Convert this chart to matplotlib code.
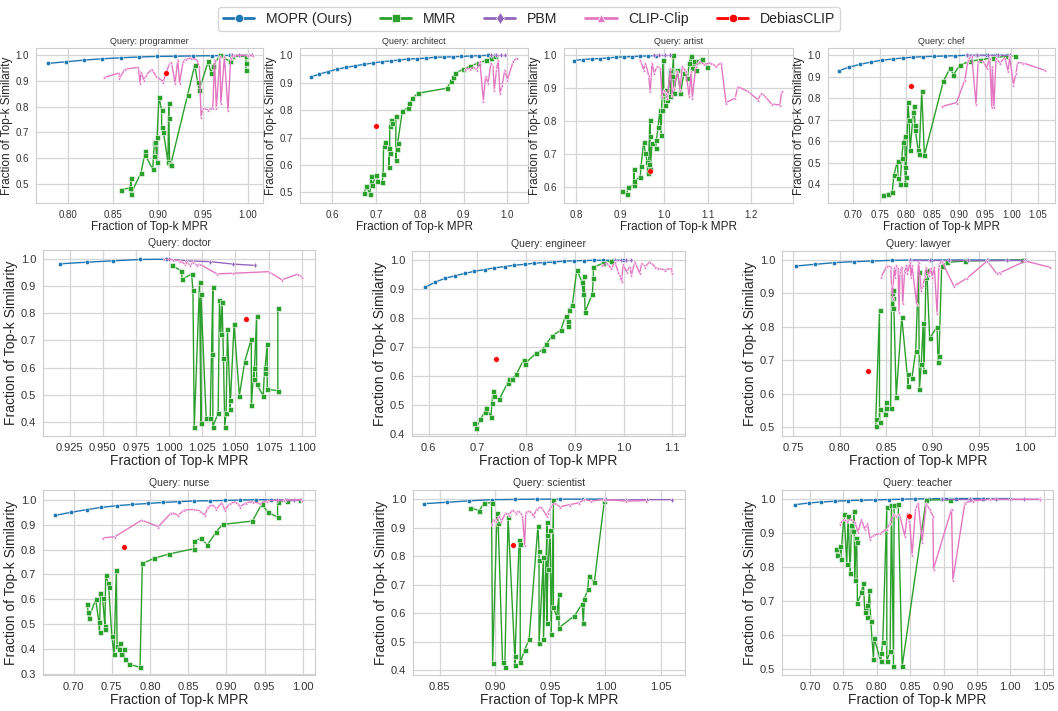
import numpy as np
import matplotlib
matplotlib.use("Agg")
from matplotlib import pyplot as plt
from matplotlib.ticker import MultipleLocator
from matplotlib.lines import Line2D
import seaborn as sns

sns.set_style("whitegrid")
plt.rcParams['font.family'] = ['Liberation Sans', 'DejaVu Sans']

queries = ['programmer', 'architect', 'artist', 'chef', 'doctor',
           'engineer', 'lawyer', 'nurse', 'scientist', 'teacher']
methods = ['MOPR (Ours)', 'MMR', 'PBM', 'CLIP-Clip', 'DebiasCLIP']

# ---- programmer ----
programmer_mopr = [(0.777, 0.969), (0.797, 0.975), (0.818, 0.982), (0.838, 0.987), (0.859, 0.991),
                   (0.879, 0.994), (0.899, 0.996), (0.919, 0.997), (0.939, 0.998), (0.960, 0.999),
                   (0.980, 1.0), (1.0, 1.0)]
programmer_mmr = [(0.859, 0.476), (0.869, 0.483), (0.870, 0.520), (0.870, 0.461), (0.881, 0.542),
                  (0.886, 0.628), (0.886, 0.611), (0.894, 0.555), (0.895, 0.607), (0.896, 0.659),
                  (0.897, 0.663), (0.899, 0.585), (0.899, 0.683), (0.901, 0.839), (0.904, 0.787),
                  (0.904, 0.722), (0.906, 0.702), (0.911, 0.585), (0.912, 0.813), (0.912, 0.755),
                  (0.913, 0.578), (0.914, 0.572), (0.933, 0.846), (0.941, 0.963), (0.944, 0.898),
                  (0.946, 0.866), (0.956, 0.977), (0.959, 0.931), (0.961, 0.957), (0.969, 1.0),
                  (0.980, 0.977), (0.983, 0.996), (0.998, 0.996), (0.998, 0.970), (0.998, 0.944)]
programmer_pbm = [(0.983, 1.0), (0.990, 1.0), (1.0, 1.0), (1.005, 1.0)]
programmer_clip = [(0.840, 0.914), (0.856, 0.931), (0.857, 0.911), (0.863, 0.946), (0.878, 0.954),
                   (0.880, 0.892), (0.881, 0.937), (0.884, 0.905), (0.887, 0.924), (0.893, 0.946),
                   (0.898, 0.918), (0.906, 0.898), (0.909, 0.931), (0.913, 0.970), (0.915, 0.973),
                   (0.919, 0.892), (0.922, 0.983), (0.924, 0.892), (0.928, 0.977), (0.931, 0.986),
                   (0.937, 0.990), (0.943, 0.983), (0.946, 0.957), (0.948, 0.761), (0.950, 0.794),
                   (0.956, 0.787), (0.961, 0.794), (0.963, 0.983), (0.965, 0.794), (0.969, 0.996),
                   (0.970, 0.813), (0.974, 0.996), (0.978, 0.787), (0.981, 0.990), (0.985, 1.0),
                   (1.0, 1.0), (1.006, 1.0)]

# ---- architect ----
architect_mopr = [(0.551, 0.921), (0.570, 0.932), (0.591, 0.941), (0.611, 0.950), (0.631, 0.956),
                  (0.652, 0.962), (0.672, 0.967), (0.692, 0.972), (0.713, 0.977), (0.733, 0.980),
                  (0.753, 0.983), (0.773, 0.987), (0.794, 0.988), (0.814, 0.990), (0.834, 0.993),
                  (0.855, 0.994), (0.875, 0.995), (0.895, 0.996), (0.916, 0.998), (0.935, 0.999),
                  (0.956, 1.0), (0.971, 1.0)]
architect_mmr = [(0.673, 0.498), (0.677, 0.522), (0.686, 0.495), (0.688, 0.560), (0.691, 0.526),
                 (0.700, 0.565), (0.703, 0.542), (0.714, 0.537), (0.716, 0.568), (0.717, 0.670),
                 (0.720, 0.682), (0.729, 0.663), (0.729, 0.593), (0.731, 0.644), (0.731, 0.742),
                 (0.735, 0.764), (0.737, 0.752), (0.745, 0.779), (0.745, 0.617), (0.747, 0.660),
                 (0.749, 0.679), (0.760, 0.798), (0.773, 0.809), (0.776, 0.825), (0.783, 0.844),
                 (0.796, 0.862), (0.861, 0.880), (0.872, 0.905), (0.876, 0.921), (0.881, 0.935),
                 (0.899, 0.950), (0.914, 0.960), (0.933, 0.972), (0.952, 0.982), (0.963, 0.990),
                 (0.971, 0.996)]
architect_pbm = [(0.963, 1.0), (0.975, 1.0), (0.985, 1.0), (0.995, 1.0)]
architect_clip = [(0.903, 0.950), (0.914, 0.952), (0.924, 0.957), (0.930, 0.947), (0.937, 0.978),
                  (0.945, 0.835), (0.950, 0.923), (0.956, 0.899), (0.962, 0.972), (0.967, 0.960),
                  (0.970, 0.874), (0.975, 0.947), (0.979, 0.984), (0.983, 0.862), (0.988, 0.892),
                  (0.994, 0.947), (1.0, 0.911), (1.013, 0.978), (1.021, 0.990)]

# ---- artist ----
artist_mopr = [(0.795, 0.984), (0.815, 0.987), (0.835, 0.989), (0.854, 0.990), (0.873, 0.992),
               (0.891, 0.994), (0.909, 0.995), (0.927, 0.996), (0.946, 0.997), (0.963, 0.998),
               (0.981, 0.999)]
artist_mmr = [(0.904, 0.588), (0.915, 0.578), (0.919, 0.600), (0.931, 0.605), (0.931, 0.653),
              (0.933, 0.618), (0.946, 0.631), (0.948, 0.663), (0.954, 0.737), (0.958, 0.702),
              (0.962, 0.676), (0.963, 0.641), (0.965, 0.671), (0.968, 0.804), (0.969, 0.755),
              (0.969, 0.653), (0.973, 0.732), (0.981, 0.717), (0.983, 0.742), (0.987, 0.783),
              (0.991, 0.834), (0.994, 0.758), (0.995, 0.834), (0.996, 0.875), (0.998, 0.987),
              (1.000, 0.885), (1.002, 0.849), (1.004, 0.895), (1.008, 0.865), (1.014, 0.956),
              (1.015, 0.875), (1.019, 0.936), (1.022, 1.0), (1.023, 0.885), (1.031, 0.956),
              (1.038, 0.885), (1.046, 0.946), (1.054, 0.931), (1.058, 0.977), (1.062, 0.997),
              (1.065, 0.961), (1.069, 0.982), (1.073, 0.956), (1.077, 0.982), (1.088, 0.990),
              (1.098, 0.963)]
artist_pbm = [(0.977, 1.0), (0.990, 1.0), (1.002, 1.0), (1.015, 1.0)]
artist_clip = [(0.946, 0.987), (0.954, 0.956), (0.958, 0.977), (0.965, 0.941), (0.969, 0.890),
               (0.973, 0.977), (0.978, 0.946), (0.985, 0.966), (0.992, 0.961), (0.996, 0.875),
               (1.000, 0.895), (1.004, 0.885), (1.008, 0.870), (1.015, 0.961), (1.019, 0.880),
               (1.023, 0.900), (1.031, 0.951), (1.037, 0.895), (1.042, 0.966), (1.050, 0.951),
               (1.058, 0.875), (1.062, 0.951), (1.065, 0.870), (1.073, 0.966), (1.081, 0.982),
               (1.092, 0.972), (1.108, 0.977), (1.119, 0.966), (1.131, 0.977), (1.142, 0.856),
               (1.163, 0.870), (1.169, 0.905), (1.192, 0.890), (1.215, 0.865), (1.223, 0.885),
               (1.231, 0.875), (1.246, 0.852), (1.265, 0.849), (1.269, 0.890)]

# ---- chef ----
chef_mopr = [(0.672, 0.928), (0.692, 0.945), (0.713, 0.958), (0.734, 0.969), (0.754, 0.977),
             (0.775, 0.983), (0.795, 0.988), (0.814, 0.991), (0.833, 0.994), (0.853, 0.995),
             (0.874, 0.997), (0.894, 0.998), (0.915, 1.0), (0.934, 1.0), (0.953, 1.0),
             (0.972, 1.0), (0.991, 1.0)]
chef_mmr = [(0.756, 0.349), (0.765, 0.357), (0.774, 0.364), (0.777, 0.442), (0.784, 0.509),
            (0.785, 0.427), (0.789, 0.403), (0.792, 0.520), (0.795, 0.598), (0.798, 0.625),
            (0.799, 0.403), (0.799, 0.481), (0.800, 0.435), (0.804, 0.785), (0.806, 0.699),
            (0.808, 0.559), (0.814, 0.738), (0.816, 0.762), (0.817, 0.676), (0.818, 0.653),
            (0.823, 0.559), (0.825, 0.540), (0.830, 0.832), (0.835, 0.536), (0.871, 0.879),
            (0.884, 0.941), (0.890, 0.910), (0.903, 0.956), (0.922, 0.972), (0.941, 0.980),
            (0.966, 0.988), (0.988, 0.995), (1.008, 0.998)]
chef_pbm = [(0.915, 1.0), (0.935, 1.0), (0.955, 1.0), (0.975, 1.0), (0.997, 1.0)]
chef_clip = [(0.868, 0.762), (0.896, 0.780), (0.912, 0.886), (0.918, 0.980), (0.925, 0.995),
             (0.933, 0.774), (0.937, 0.972), (0.947, 0.972), (0.953, 0.941), (0.959, 0.988),
             (0.963, 0.759), (0.964, 0.949), (0.967, 0.759), (0.971, 0.988), (0.978, 0.964),
             (0.988, 0.988), (0.994, 0.925), (0.997, 0.995), (1.004, 0.863), (1.009, 0.917),
             (1.012, 0.967), (1.023, 0.964), (1.064, 0.930)]

# ---- doctor ----
doctor_mopr = [(0.918, 0.983), (0.938, 0.989), (0.958, 0.994), (0.978, 0.999), (0.998, 1.0)]
doctor_mmr = [(1.002, 0.977), (1.009, 0.958), (1.010, 0.927), (1.017, 0.945), (1.018, 0.885),
              (1.019, 0.382), (1.023, 0.914), (1.024, 0.394), (1.024, 0.871), (1.028, 0.413),
              (1.031, 0.413), (1.032, 0.649), (1.033, 0.897), (1.033, 0.382), (1.037, 0.431),
              (1.038, 0.850), (1.039, 0.723), (1.040, 0.842), (1.041, 0.634), (1.042, 0.382),
              (1.043, 0.431), (1.044, 0.741), (1.046, 0.480), (1.046, 0.447), (1.049, 0.760),
              (1.053, 0.496), (1.057, 0.621), (1.062, 0.706), (1.062, 0.460), (1.064, 0.597),
              (1.064, 0.557), (1.066, 0.789), (1.066, 0.538), (1.071, 0.496), (1.072, 0.600),
              (1.072, 0.580), (1.074, 0.686), (1.074, 0.520), (1.082, 0.514), (1.082, 0.818)]
doctor_pbm = [(1.000, 1.0), (1.013, 0.994), (1.031, 0.991), (1.048, 0.982), (1.065, 0.977)]
doctor_clip = [(0.996, 1.0), (1.003, 0.998), (1.008, 0.994), (1.012, 0.982), (1.013, 0.991),
               (1.016, 0.977), (1.018, 0.989), (1.021, 0.977), (1.023, 0.982), (1.036, 0.946),
               (1.048, 0.948), (1.075, 0.954), (1.085, 0.924), (1.097, 0.945), (1.100, 0.936)]

# ---- engineer ----
engineer_mopr = [(0.593, 0.907), (0.614, 0.925), (0.634, 0.938), (0.655, 0.947), (0.675, 0.955),
                 (0.694, 0.962), (0.715, 0.968), (0.735, 0.974), (0.756, 0.978), (0.776, 0.983),
                 (0.797, 0.986), (0.817, 0.990), (0.837, 0.992), (0.857, 0.994), (0.878, 0.997),
                 (0.898, 0.998), (0.918, 0.999), (0.939, 1.0), (0.958, 1.0), (0.979, 1.0),
                 (0.999, 1.0)]
engineer_mmr = [(0.694, 0.438), (0.698, 0.423), (0.706, 0.452), (0.716, 0.478), (0.718, 0.492),
                (0.728, 0.461), (0.730, 0.509), (0.732, 0.549), (0.734, 0.533), (0.745, 0.521),
                (0.762, 0.576), (0.764, 0.590), (0.771, 0.590), (0.780, 0.607), (0.795, 0.656),
                (0.798, 0.644), (0.820, 0.679), (0.834, 0.691), (0.841, 0.711), (0.853, 0.738),
                (0.871, 0.759), (0.881, 0.808), (0.885, 0.792), (0.885, 0.774), (0.888, 0.830),
                (0.895, 0.846), (0.904, 0.967), (0.915, 0.924), (0.917, 0.883), (0.919, 0.946),
                (0.921, 0.821), (0.936, 0.885), (0.938, 0.940), (0.938, 0.976), (0.958, 0.990),
                (0.975, 0.998)]
engineer_pbm = [(0.982, 1.0), (0.994, 1.0), (1.005, 1.0), (1.016, 1.0)]
engineer_clip = [(0.955, 0.982), (0.965, 0.990), (0.975, 0.972), (0.982, 0.993), (0.989, 0.961),
                 (0.992, 0.949), (0.996, 0.929), (0.999, 0.986), (1.006, 0.961), (1.013, 0.978),
                 (1.016, 0.949), (1.023, 0.995), (1.033, 0.955), (1.037, 0.990), (1.044, 0.978),
                 (1.054, 0.995), (1.064, 0.978), (1.071, 0.972), (1.085, 0.967), (1.098, 0.972),
                 (1.100, 0.955)]

# ---- lawyer ----
lawyer_mopr = [(0.753, 0.982), (0.773, 0.987), (0.794, 0.992), (0.815, 0.995), (0.835, 0.997),
               (0.856, 0.999), (0.876, 1.0), (0.898, 1.0), (0.917, 1.0), (0.937, 1.0),
               (0.959, 1.0), (0.980, 1.0), (1.0, 1.0)]
lawyer_mmr = [(0.839, 0.503), (0.839, 0.523), (0.843, 0.849), (0.843, 0.514), (0.843, 0.553),
              (0.849, 0.539), (0.850, 0.574), (0.850, 0.558), (0.855, 0.558), (0.856, 0.900),
              (0.857, 0.887), (0.857, 0.855), (0.858, 0.910), (0.861, 0.591), (0.867, 0.829),
              (0.874, 0.623), (0.874, 0.658), (0.878, 0.648), (0.882, 0.728), (0.885, 0.965),
              (0.886, 0.614), (0.888, 0.688), (0.890, 0.810), (0.891, 0.668), (0.893, 0.950),
              (0.894, 0.970), (0.897, 0.765), (0.905, 0.800), (0.906, 0.696), (0.907, 0.714),
              (0.910, 0.983), (0.916, 0.993), (0.935, 0.997), (0.996, 1.0)]
lawyer_pbm = [(0.876, 1.0), (0.897, 1.0), (0.918, 1.0), (0.938, 1.0), (0.959, 1.0),
              (0.980, 1.0), (1.0, 1.0)]
lawyer_clip = [(0.845, 0.950), (0.851, 0.983), (0.855, 0.980), (0.856, 0.925), (0.857, 0.887),
               (0.859, 0.980), (0.860, 0.950), (0.861, 0.985), (0.863, 0.977), (0.864, 0.845),
               (0.865, 0.965), (0.867, 0.980), (0.868, 0.870), (0.870, 0.965), (0.872, 0.985),
               (0.873, 0.960), (0.876, 0.995), (0.877, 0.950), (0.878, 0.985), (0.883, 0.867),
               (0.885, 0.995), (0.888, 0.910), (0.890, 0.925), (0.892, 0.953), (0.893, 0.980),
               (0.896, 0.955), (0.898, 0.975), (0.900, 0.950), (0.902, 0.980), (0.905, 0.840),
               (0.907, 0.985), (0.910, 0.997), (0.923, 0.922), (0.937, 0.945), (0.959, 0.997),
               (0.969, 0.960), (0.973, 0.962), (1.0, 0.997), (1.027, 0.978)]

# ---- nurse ----
nurse_mopr = [(0.676, 0.937), (0.696, 0.949), (0.717, 0.960), (0.736, 0.969), (0.757, 0.976),
              (0.777, 0.981), (0.798, 0.985), (0.817, 0.989), (0.838, 0.992), (0.858, 0.995),
              (0.878, 0.996), (0.898, 0.997), (0.918, 0.999), (0.939, 1.0), (0.958, 1.0),
              (0.979, 1.0), (0.999, 1.0)]
nurse_mmr = [(0.718, 0.580), (0.719, 0.548), (0.720, 0.525), (0.729, 0.600), (0.733, 0.510),
             (0.734, 0.467), (0.735, 0.625), (0.738, 0.605), (0.741, 0.493), (0.741, 0.479),
             (0.742, 0.697), (0.745, 0.667), (0.746, 0.649), (0.750, 0.454), (0.753, 0.379),
             (0.756, 0.718), (0.757, 0.414), (0.760, 0.399), (0.761, 0.426), (0.762, 0.380),
             (0.766, 0.400), (0.767, 0.359), (0.773, 0.339), (0.787, 0.327), (0.790, 0.744),
             (0.805, 0.764), (0.825, 0.782), (0.857, 0.803), (0.858, 0.835), (0.867, 0.845),
             (0.875, 0.818), (0.887, 0.872), (0.895, 0.901), (0.934, 0.914), (0.946, 0.981),
             (0.955, 0.949), (0.967, 0.930), (0.967, 0.989), (0.979, 0.996), (0.996, 0.999)]
nurse_pbm = [(0.966, 1.0), (0.977, 1.0), (0.988, 1.0), (0.999, 1.0)]
nurse_clip = [(0.738, 0.847), (0.754, 0.851), (0.789, 0.918), (0.811, 0.892), (0.828, 0.948),
              (0.837, 0.938), (0.845, 0.959), (0.857, 0.961), (0.865, 0.956), (0.872, 0.938),
              (0.876, 0.972), (0.883, 0.979), (0.887, 0.963), (0.894, 0.988), (0.898, 0.959),
              (0.905, 0.985), (0.913, 0.992), (0.918, 0.972), (0.926, 0.988), (0.935, 0.992),
              (0.944, 0.985), (0.953, 0.996), (0.975, 0.999), (0.999, 1.0)]

# ---- scientist ----
scientist_mopr = [(0.836, 0.984), (0.857, 0.989), (0.877, 0.994), (0.897, 0.998), (0.918, 0.999),
                  (0.938, 1.0), (0.959, 1.0), (0.980, 1.0), (1.0, 1.0)]
scientist_mmr = [(0.878, 0.969), (0.886, 0.960), (0.890, 0.985), (0.897, 0.988), (0.898, 0.426),
                 (0.902, 0.950), (0.903, 0.917), (0.907, 0.427), (0.909, 0.411), (0.912, 0.937),
                 (0.918, 0.450), (0.918, 0.418), (0.922, 0.856), (0.923, 0.844), (0.923, 0.427),
                 (0.927, 0.471), (0.931, 0.508), (0.939, 0.907), (0.940, 0.819), (0.940, 0.788),
                 (0.940, 0.494), (0.944, 0.797), (0.944, 0.508), (0.947, 0.873), (0.947, 0.919),
                 (0.947, 0.567), (0.948, 0.756), (0.950, 0.891), (0.951, 0.526), (0.953, 0.996),
                 (0.953, 0.620), (0.956, 0.588), (0.958, 0.667), (0.958, 0.549), (0.972, 0.590),
                 (0.979, 0.633), (0.980, 0.565), (0.981, 0.649), (0.984, 0.684), (0.985, 0.729),
                 (0.990, 0.709), (0.999, 0.993)]
scientist_pbm = [(1.0, 0.997), (1.019, 0.997), (1.038, 0.998), (1.060, 0.998)]
scientist_clip = [(0.897, 0.911), (0.899, 0.928), (0.901, 0.923), (0.904, 0.940), (0.906, 0.923),
                  (0.910, 0.952), (0.913, 0.946), (0.916, 0.961), (0.919, 0.952), (0.922, 0.958),
                  (0.925, 0.942), (0.927, 0.840), (0.928, 0.954), (0.932, 0.958), (0.935, 0.940),
                  (0.938, 0.966), (0.942, 0.973), (0.947, 0.940), (0.948, 0.952), (0.951, 0.975),
                  (0.954, 0.987), (0.959, 0.973), (0.968, 0.981), (0.976, 0.987), (0.981, 0.999),
                  (0.987, 0.993), (0.999, 0.999), (1.019, 0.993), (1.037, 0.995)]

# ---- teacher ----
teacher_mopr = [(0.678, 0.982), (0.698, 0.987), (0.717, 0.990), (0.737, 0.992), (0.757, 0.994),
                (0.777, 0.995), (0.798, 0.996), (0.818, 0.997), (0.838, 0.998), (0.858, 0.999),
                (0.878, 0.999), (0.898, 1.0), (0.918, 1.0), (0.939, 1.0), (0.959, 1.0),
                (0.979, 1.0), (0.999, 1.0)]
teacher_mmr = [(0.739, 0.853), (0.740, 0.836), (0.745, 0.861), (0.746, 0.824), (0.751, 0.956),
               (0.755, 0.807), (0.757, 0.949), (0.760, 0.782), (0.762, 0.922), (0.764, 0.904),
               (0.766, 0.964), (0.767, 0.760), (0.769, 0.885), (0.770, 0.873), (0.771, 0.694),
               (0.777, 0.725), (0.780, 0.753), (0.782, 0.667), (0.785, 0.689), (0.786, 0.652),
               (0.789, 0.733), (0.791, 0.641), (0.795, 0.529), (0.796, 0.591), (0.806, 0.523),
               (0.807, 0.547), (0.809, 0.581), (0.815, 0.974), (0.815, 0.523), (0.820, 0.552),
               (0.822, 0.980), (0.825, 0.508), (0.826, 0.980), (0.832, 0.985), (0.838, 0.508),
               (0.874, 0.996), (0.909, 0.996)]
teacher_pbm = [(0.898, 1.0), (0.939, 1.0), (0.979, 1.0), (1.020, 1.0), (1.044, 1.0)]
teacher_clip = [(0.745, 0.926), (0.750, 0.939), (0.755, 0.934), (0.762, 0.941), (0.767, 0.931),
                (0.772, 0.902), (0.777, 0.939), (0.782, 0.910), (0.786, 0.927), (0.790, 0.882),
                (0.795, 0.892), (0.805, 0.898), (0.815, 0.910), (0.820, 0.929), (0.825, 0.954),
                (0.829, 0.949), (0.834, 0.954), (0.842, 0.890), (0.846, 0.959), (0.849, 0.934),
                (0.853, 0.836), (0.858, 0.969), (0.862, 0.988), (0.868, 0.873), (0.874, 0.986),
                (0.879, 0.969), (0.884, 0.949), (0.885, 0.794), (0.912, 0.969), (0.914, 0.761),
                (0.932, 0.988), (0.944, 0.993), (0.969, 0.998), (0.999, 0.998), (1.044, 0.998)]

# DebiasCLIP: one operating point per query (same order as `queries`)
debias_x = [0.909, 0.700, 0.968, 0.809, 1.058, 0.738, 0.831, 0.766, 0.916, 0.849]
debias_y = [0.931, 0.743, 0.649, 0.855, 0.780, 0.660, 0.669, 0.809, 0.840, 0.949]

series = {
    'programmer': (programmer_mopr, programmer_mmr, programmer_pbm, programmer_clip),
    'architect': (architect_mopr, architect_mmr, architect_pbm, architect_clip),
    'artist': (artist_mopr, artist_mmr, artist_pbm, artist_clip),
    'chef': (chef_mopr, chef_mmr, chef_pbm, chef_clip),
    'doctor': (doctor_mopr, doctor_mmr, doctor_pbm, doctor_clip),
    'engineer': (engineer_mopr, engineer_mmr, engineer_pbm, engineer_clip),
    'lawyer': (lawyer_mopr, lawyer_mmr, lawyer_pbm, lawyer_clip),
    'nurse': (nurse_mopr, nurse_mmr, nurse_pbm, nurse_clip),
    'scientist': (scientist_mopr, scientist_mmr, scientist_pbm, scientist_clip),
    'teacher': (teacher_mopr, teacher_mmr, teacher_pbm, teacher_clip),
}

colors = ['#1f77b4', '#2ca02c', '#9467bd', '#e377c2', 'red']
markers = ['o', 's', 'd', '^', 'o']
msizes = [3.2, 3.6, 3.0, 2.4]

W, H = 1058, 711
# axes boxes in pixels: left, top, right, bottom
boxes = {
    'programmer': (36, 48, 263, 203), 'architect': (300, 48, 528, 203),
    'artist': (564, 48, 793, 203), 'chef': (828, 48, 1055, 203),
    'doctor': (43, 250, 315, 436), 'engineer': (412, 251, 685, 436),
    'lawyer': (782, 251, 1055, 436),
    'nurse': (43, 490, 315, 675), 'scientist': (413, 490, 685, 675),
    'teacher': (782, 490, 1053, 675),
}
limits = {
    'programmer': ((0.764, 1.017), (0.424, 1.029), 0.05),
    'architect': ((0.526, 1.047), (0.461, 1.027), 0.1),
    'artist': ((0.772, 1.295), (0.551, 1.022), 0.1),
    'chef': ((0.652, 1.083), (0.313, 1.034), 0.05),
    'doctor': ((0.905, 1.110), (0.347, 1.034), 0.025),
    'engineer': ((0.566, 1.126), (0.394, 1.032), 0.1),
    'lawyer': ((0.738, 1.032), (0.473, 1.027), 0.05),
    'nurse': ((0.660, 1.016), (0.296, 1.039), 0.05),
    'scientist': ((0.826, 1.072), (0.383, 1.032), 0.05),
    'teacher': ((0.658, 1.064), (0.483, 1.025), 0.05),
}

fig = plt.figure(figsize=(W / 100, H / 100), dpi=100)

for i, q in enumerate(queries):
    l, t, r, b = boxes[q]
    ax = fig.add_axes([l / W, 1 - b / H, (r - l) / W, (b - t) / H])
    small = i < 4
    for j, pts in enumerate(series[q]):
        xs, ys = zip(*pts)
        ax.plot(xs, ys, color=colors[j], lw=1.0, marker=markers[j], ms=msizes[j],
                mec='white', mew=0.4, zorder=2 + j)
    ax.plot(debias_x[i], debias_y[i], 'o', color='red', ms=4, mec='white', mew=0.3, zorder=8)

    xl, yl, step = limits[q]
    ax.set_xlim(*xl)
    ax.set_ylim(*yl)
    ax.xaxis.set_major_locator(MultipleLocator(step))
    ax.yaxis.set_major_locator(MultipleLocator(0.1))
    fmt = '%.3f' if step == 0.025 else ('%.1f' if step == 0.1 else '%.2f')
    ax.xaxis.set_major_formatter(plt.FormatStrFormatter(fmt))
    ax.yaxis.set_major_formatter(plt.FormatStrFormatter('%.1f'))

    ax.tick_params(labelsize=7 if small else 8, pad=1.5, colors='#333333')
    ax.set_title('Query: ' + q, fontsize=6.5 if small else 7.5, pad=3, color='#333333')
    ax.set_xlabel('Fraction of Top-k MPR', fontsize=8.5 if small else 10, labelpad=1)
    ax.set_ylabel('Fraction of Top-k Similarity', fontsize=8.5 if small else 10, labelpad=2)
    for s in ax.spines.values():
        s.set_color('#cccccc')
    ax.grid(color='#d5d5d5', lw=0.9)

handles = [Line2D([], [], color=colors[k], marker=markers[k], lw=2, ms=6, mec='white', mew=0.5)
           for k in range(5)]
fig.legend(handles, methods, loc='upper center', bbox_to_anchor=(0.5, 1.0), ncol=5,
           fontsize=10.2, frameon=True, handlelength=2.2, columnspacing=2.0,
           borderpad=0.35, edgecolor='#cccccc')

fig.savefig('out.png', dpi=100)
